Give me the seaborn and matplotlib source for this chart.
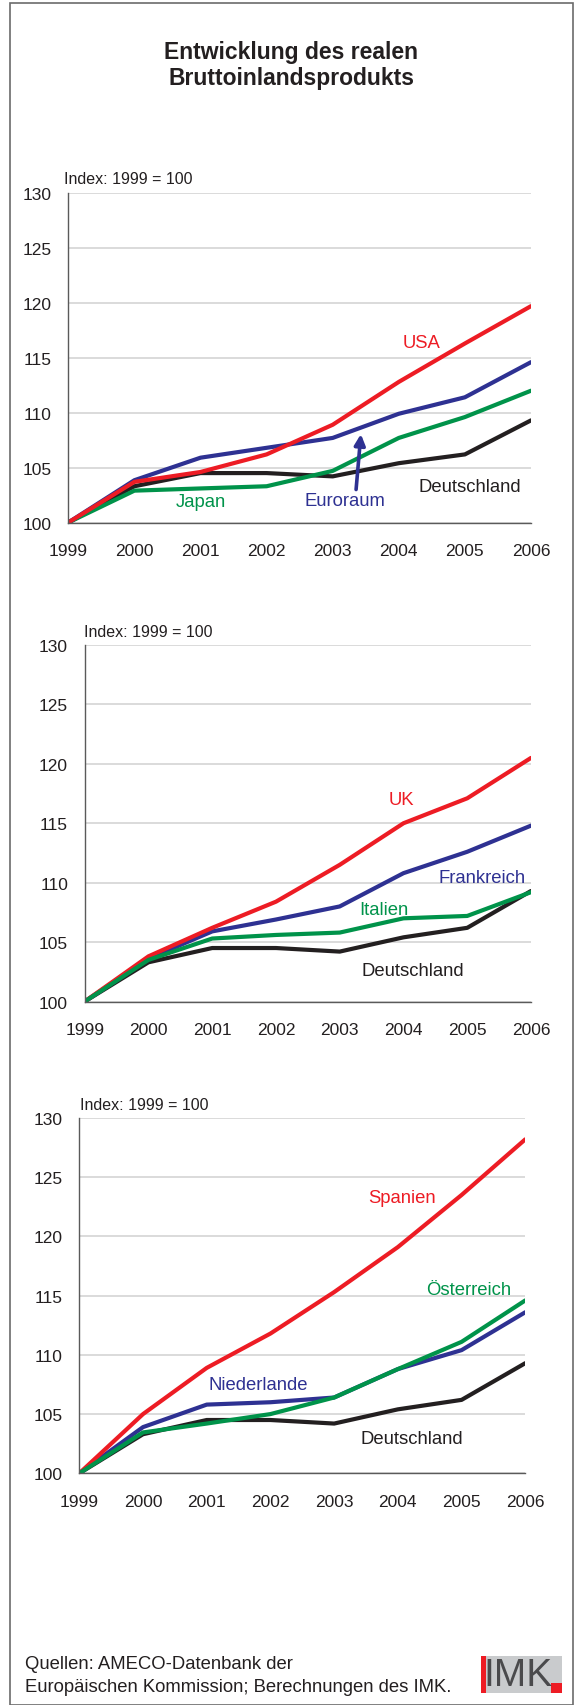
import matplotlib
matplotlib.use("Agg")
import matplotlib.pyplot as plt
import seaborn as sns
import numpy as np
from matplotlib.patches import Rectangle

# ---------------- data ----------------
YEARS = [1999, 2000, 2001, 2002, 2003, 2004, 2005, 2006]
Y_TICKS = [100, 105, 110, 115, 120, 125, 130]

DEUTSCHLAND = [100, 103.3, 104.5, 104.5, 104.2, 105.4, 106.2, 109.3]
JAPAN = [100, 102.9, 103.1, 103.3, 104.7, 107.7, 109.6, 112.0]
EURORAUM = [100, 103.85, 105.9, 106.8, 107.7, 109.9, 111.4, 114.6]
USA = [100, 103.7, 104.6, 106.2, 108.9, 112.8, 116.3, 119.7]

ITALIEN = [100, 103.5, 105.3, 105.6, 105.8, 107.0, 107.2, 109.2]
FRANKREICH = [100, 103.6, 105.9, 106.9, 108.0, 110.8, 112.6, 114.8]
UK = [100, 103.8, 106.2, 108.4, 111.5, 115.0, 117.1, 120.5]

NIEDERLANDE = [100, 103.9, 105.8, 106.0, 106.4, 108.8, 110.4, 113.6]
SPANIEN = [100, 105.0, 108.9, 111.8, 115.3, 119.1, 123.5, 128.2]
OESTERREICH = [100, 103.45, 104.2, 105.0, 106.4, 108.8, 111.1, 114.6]

TITLE_1 = "Entwicklung des realen"
TITLE_2 = "Bruttoinlandsprodukts"
INDEX_TEXT = "Index: 1999 = 100"
SOURCE_1 = "Quellen: AMECO-Datenbank der"
SOURCE_2 = "Europäischen Kommission; Berechnungen des IMK."

# ---------------- style ----------------
RED = "#ed1c24"
BLUE = "#2e3192"
GREEN = "#00934a"
BLACK = "#231f20"
TXT = "#231f20"
GRID = "#d4d4d4"
SPINE = "#5a5a5a"

sns.set_style("white")
plt.rcParams["font.family"] = ["Liberation Sans", "DejaVu Sans"]

W, H = 575, 1706
fig = plt.figure(figsize=(W / 100, H / 100), dpi=100)


def fx(x):
    return x / W


def fy(y):
    return 1 - y / H


def axes_from_px(left, top, right, bottom):
    return fig.add_axes([fx(left), fy(bottom), (right - left) / W, (bottom - top) / H])


def style_axes(ax):
    ax.set_xlim(1999, 2006)
    ax.set_ylim(100, 130)
    ax.set_xticks(YEARS)
    ax.set_xticklabels([str(y) for y in YEARS])
    ax.set_yticks(Y_TICKS)
    ax.set_yticklabels([str(v) for v in Y_TICKS])
    ax.set_xlabel("")
    ax.set_ylabel("")
    for s in ["top", "right"]:
        ax.spines[s].set_visible(False)
    for s in ["left", "bottom"]:
        ax.spines[s].set_color(SPINE)
        ax.spines[s].set_linewidth(1.0)
    ax.tick_params(axis="both", which="both", direction="out", length=4,
                   width=1.0, color=SPINE, labelsize=12.5, labelcolor=TXT)
    ax.tick_params(axis="x", pad=11)
    ax.tick_params(axis="y", pad=8)
    ax.set_axisbelow(True)
    ax.yaxis.grid(True, color=GRID, linewidth=1.2)
    ax.xaxis.grid(False)
    if ax.get_legend() is not None:
        ax.get_legend().remove()


def draw(ax, series):
    for vals, col in series:
        sns.lineplot(x=YEARS, y=vals, ax=ax, color=col, linewidth=3.0,
                     solid_capstyle="round", solid_joinstyle="round")
    style_axes(ax)


LBL = 13.3

# ---------------- panel 1 ----------------
ax1 = axes_from_px(68.3, 194, 531, 523.5)
draw(ax1, [(DEUTSCHLAND, BLACK), (JAPAN, GREEN), (EURORAUM, BLUE), (USA, RED)])
ax1.text(2004.34, 116.4, "USA", color=RED, fontsize=LBL, ha="center", va="center")
ax1.text(2001.0, 101.9, "Japan", color=GREEN, fontsize=LBL, ha="center", va="center")
ax1.text(2005.08, 103.3, "Deutschland", color=BLACK, fontsize=LBL, ha="center", va="center")
ax1.text(2003.18, 102.0, "Euroraum", color=BLUE, fontsize=LBL, ha="center", va="center")
ax1.annotate("", xy=(2003.43, 108.3), xytext=(2003.35, 102.75),
             arrowprops=dict(arrowstyle="-|>", color=BLUE, lw=2.6, mutation_scale=16))
fig.text(fx(64), fy(180), INDEX_TEXT, fontsize=11.5, color=TXT, ha="left", va="center")

# ---------------- panel 2 ----------------
ax2 = axes_from_px(84.7, 646, 531, 1002.5)
draw(ax2, [(DEUTSCHLAND, BLACK), (FRANKREICH, BLUE), (UK, RED), (ITALIEN, GREEN)])
ax2.text(2003.96, 117.0, "UK", color=RED, fontsize=LBL, ha="center", va="center")
ax2.text(2005.23, 110.4, "Frankreich", color=BLUE, fontsize=LBL, ha="center", va="center")
ax2.text(2003.70, 107.7, "Italien", color=GREEN, fontsize=LBL, ha="center", va="center")
ax2.text(2004.14, 102.65, "Deutschland", color=BLACK, fontsize=LBL, ha="center", va="center")
fig.text(fx(83.6), fy(632.7), INDEX_TEXT, fontsize=11.5, color=TXT, ha="left", va="center")

# ---------------- panel 3 ----------------
ax3 = axes_from_px(79.3, 1119, 525.3, 1474.3)
draw(ax3, [(DEUTSCHLAND, BLACK), (NIEDERLANDE, BLUE), (SPANIEN, RED), (OESTERREICH, GREEN)])
ax3.text(2004.07, 123.25, "Spanien", color=RED, fontsize=LBL, ha="center", va="center")
ax3.text(2005.11, 115.5, "Österreich", color=GREEN, fontsize=LBL, ha="center", va="center")
ax3.text(2001.81, 107.5, "Niederlande", color=BLUE, fontsize=LBL, ha="center", va="center")
ax3.text(2004.22, 102.96, "Deutschland", color=BLACK, fontsize=LBL, ha="center", va="center")
fig.text(fx(80), fy(1105), INDEX_TEXT, fontsize=11.5, color=TXT, ha="left", va="center")

# ---------------- title ----------------
fig.text(fx(291), fy(59), TITLE_1, fontsize=16.5, fontweight="bold", color=TXT,
         ha="center", va="baseline")
fig.text(fx(291), fy(85), TITLE_2, fontsize=16.5, fontweight="bold", color=TXT,
         ha="center", va="baseline")

# ---------------- footer ----------------
fig.text(fx(25), fy(1665), SOURCE_1, fontsize=13.3, color=TXT, ha="left", va="center")
fig.text(fx(25), fy(1688), SOURCE_2, fontsize=13.3, color=TXT, ha="left", va="center")

# IMK logo
fig.patches.append(Rectangle((fx(481), fy(1694)), (562 - 481) / W, (1694 - 1657) / H,
                             transform=fig.transFigure, facecolor="#c9cbcd",
                             edgecolor="none", zorder=1))
fig.patches.append(Rectangle((fx(481), fy(1694)), 5 / W, (1694 - 1657) / H,
                             transform=fig.transFigure, facecolor=RED,
                             edgecolor="none", zorder=2))
fig.patches.append(Rectangle((fx(551), fy(1694)), 11 / W, 10 / H,
                             transform=fig.transFigure, facecolor=RED,
                             edgecolor="none", zorder=2))
fig.text(fx(518), fy(1676), "IMK", fontsize=28, color="#4a4a4c",
         ha="center", va="center", zorder=3)

# ---------------- frame ----------------
fig.patches.append(Rectangle((fx(9.5), fy(1706)), (573 - 9.5) / W, (1706 - 3.5) / H,
                             transform=fig.transFigure, facecolor="none",
                             edgecolor="#6b6b6b", linewidth=1.2, zorder=0))

fig.savefig("out.png", dpi=100, facecolor="white")
